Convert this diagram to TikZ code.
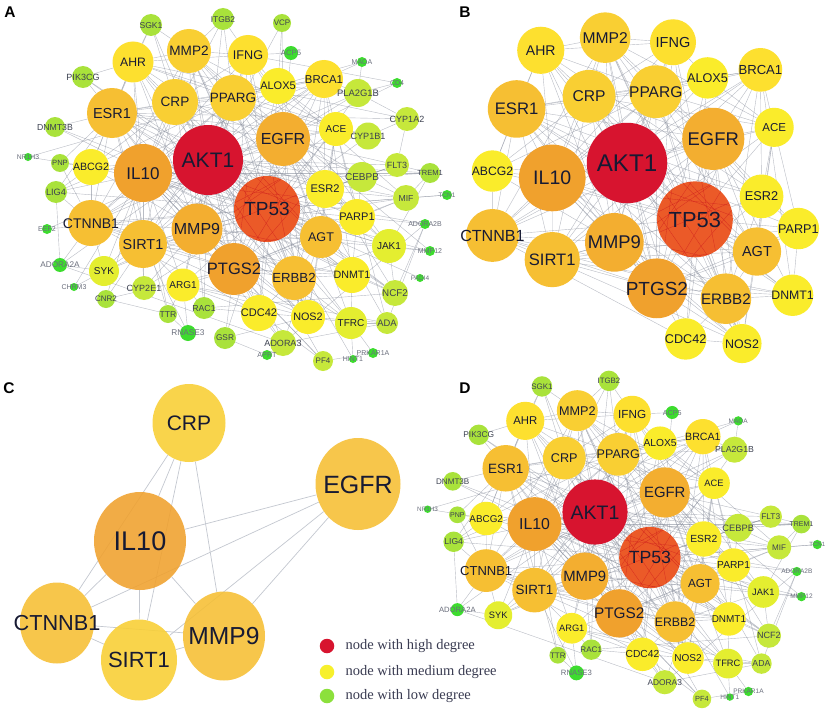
\documentclass[tikz,border=0pt]{standalone}
\usepackage{fontspec}
\setmainfont{Liberation Serif}
\setsansfont{Liberation Sans}
\usetikzlibrary{positioning, shapes.geometric}

% degree colours
\definecolor{degHigh}{HTML}{D7142F}
\definecolor{degTP}{HTML}{EB5A28}
\definecolor{degOrA}{HTML}{F0A12D}
\definecolor{degOrB}{HTML}{F3AE30}
\definecolor{degYO}{HTML}{F6BF33}
\definecolor{degYM}{HTML}{F9CF33}
\definecolor{degYE}{HTML}{FDE02F}
\definecolor{degYL}{HTML}{FAEC2B}
\definecolor{degYG}{HTML}{E4EE30}
\definecolor{degLG}{HTML}{C6E83B}
\definecolor{degGR}{HTML}{A9E23B}
\definecolor{degBG}{HTML}{3DDC2E}
\definecolor{keyYellow}{HTML}{F7F02C}
\definecolor{keyGreen}{HTML}{8CE03C}
\definecolor{ink}{HTML}{171A33}
\definecolor{inkgrey}{HTML}{3C4150}
\definecolor{inklight}{HTML}{6A6E7C}
\definecolor{linkgrey}{HTML}{8A909E}
\definecolor{clink}{HTML}{C4C8D0}
\definecolor{tpnet}{HTML}{C8101A}

\pgfdeclarelayer{back}
\pgfdeclarelayer{edges}
\pgfsetlayers{back,edges,main}

\tikzset{
  gene/.style={circle, inner sep=0pt, text=ink},
  hub/.style={fill=degHigh},
  tpnode/.style={fill=degTP, path picture={
      \foreach \pa/\pb in {5/140,25/200,50/250,80/300,110/340,150/20,170/60,200/95,
                           230/120,260/170,290/215,320/250,345/100,15/265,60/185,135/290}
        \draw[tpnet, line width=0.3pt, opacity=0.6]
          (path picture bounding box.\pa) -- (path picture bounding box.\pb);}},
  orA/.style={fill=degOrA},
  orB/.style={fill=degOrB},
  yelO/.style={fill=degYO},
  yelM/.style={fill=degYM},
  yelE/.style={fill=degYE},
  yelL/.style={fill=degYL},
  yelG/.style={fill=degYG},
  grnL/.style={fill=degLG, text=inkgrey},
  grn/.style={fill=degGR, text=inkgrey},
  grnB/.style={fill=degBG, text=inklight},
  link/.style={draw=linkgrey, line width=0.4pt, opacity=0.6},
  clinkline/.style={draw=clink, line width=0.7pt},
  cnode/.style={ellipse, fill opacity=0.88, text opacity=1},
  panel/.style={font=\sffamily\bfseries\fontsize{15.5}{15.5}\selectfont, inner sep=0pt},
  keydot/.style={circle, inner sep=0pt, minimum size=14.5},
  keytext/.style={font=\fontsize{14.5}{14.5}\selectfont, text=ink!85, inner sep=0pt},
}

% label of zero size, so the circle keeps its own size
\newcommand\glabel[1]{\makebox[0pt]{\raisebox{-0.36em}[0pt][0pt]{#1}}}

% name / x / y / radius / font size / style / level (1 = B, 2 = D, 3 = A only)
% positions relative to AKT1, panel A scale
\newcommand\genelist{%
AKT1/0/0/35/21/hub/1,
TP53/59/49/33/19/tpnode/1,
IL10/-65/13/29/17/orA/1,
EGFR/75/-21/27/16/orB/1,
MMP9/-11/69/25.5/16/orB/1,
PTGS2/26/109/26/16.5/orA/1,
ESR1/-96/-47/25/14.5/yelO/1,
CTNNB1/-117/63/23/14/yelO/1,
SIRT1/-65/84/24/14.4/yelO/1,
CRP/-33/-58/23/13.6/yelM/1,
PPARG/25/-62/23/13.5/yelM/1,
MMP2/-19/-109/22/13.6/yelM/1,
IFNG/40/-105/20/12.6/yelE/1,
AHR/-75/-98/20.5/12.2/yelE/1,
ALOX5/70/-74/18/11/yelL/1,
BRCA1/116/-81/19/11.4/yelE/1,
ACE/128/-31/17/10/yelL/1,
ESR2/117/29/19/11.1/yelL/1,
AGT/113/77/21/12.6/yelO/1,
ERBB2/86/118/22/13.2/yelO/1,
PARP1/149/57/18/11/yelL/1,
DNMT1/144/115/18/10.7/yelL/1,
CDC42/51/153/18/11/yelL/1,
NOS2/100/157/17/10.8/yelL/1,
ABCG2/-117/7/18/10.6/yelL/1,
JAK1/181/86/17/10/yelG/2,
TFRC/143/163/16/10/yelG/2,
ARG1/-25/125/16.5/10/yelL/2,
SYK/-104/111/15/10/yelG/2,
CEBPB/154/17/15/10/grnL/2,
FLT3/189/5/12/9/grnL/2,
MIF/198/38/13/8.7/grnL/2,
NCF2/187/133/13/9.8/grnL/2,
ADA/179/163/11/9.4/grnL/2,
PLA2G1B/150/-67/14/9.4/grnL/2,
SGK1/-57/-135/11/8.6/grn/2,
ITGB2/15/-141/11/8.4/grn/2,
ACP5/83/-107/7/7.7/grnB/2,
MAOA/154/-98/5/7/grnB/2,
PIK3CG/-125/-83/11/9/grn/2,
DNMT3B/-153/-33/10/8.7/grn/2,
NR1H3/-180/-3/4/6.8/grnB/2,
PNP/-148/3/9/7.6/grn/2,
LIG4/-152/32/11/9.2/grn/2,
ADORA2A/-148/105/7/8.2/grnB/2,
TTR/-40/154/9/8.6/grn/2,
RAC1/-4/148/11/8.7/grn/2,
RNASE3/-20/173/8/8.3/grnB/2,
ADORA3/75/183/13/9/grnL/2,
PF4/115/201/10/8/grnL/2,
HINT1/145/199/4/7/grnB/2,
PRKAR1A/165/193/5/7/grnB/2,
TREM1/222/13/10/7.5/grn/2,
TCN1/239/35/5/6.5/grnB/2,
ADORA2B/217/64/5/7/grnB/2,
MMP12/222/91/5/7/grnB/2,
VCP/74/-137/9/8/grn/3,
CD4/189/-77/5/7/grnB/3,
CYP1A2/199/-41/12/9/grnL/3,
CYP1B1/160/-24/13.5/9.1/grnL/3,
EEF2/-161/69/5/7/grnB/3,
CHRM3/-134/127/4/7/grnB/3,
CNR2/-102/139/9/8/grn/3,
CYP2E1/-64/128/12/9/grnL/3,
GSR/17/178/11/8.3/grn/3,
APRT/59/195/5/7.3/grnB/3,
PADI4/212/118/4/6.5/grnB/3%
}

% interactions: gene / {partners}
\newcommand\linklist{%
AKT1/{TP53,IL10,EGFR,MMP9,PTGS2,ESR1,CTNNB1,SIRT1,CRP,PPARG,MMP2,IFNG,AHR,ALOX5,BRCA1,ACE,ESR2,AGT,ERBB2,PARP1,DNMT1,CDC42,NOS2,ABCG2,JAK1,TFRC,ARG1,SYK,CEBPB,MIF,FLT3,NCF2,PLA2G1B,SGK1,ITGB2,VCP,PIK3CG,RAC1,LIG4,CYP1B1,PF4,ADORA3,TREM1,EEF2,ADORA2A},
TP53/{IL10,EGFR,MMP9,PTGS2,ESR1,CTNNB1,SIRT1,CRP,PPARG,MMP2,IFNG,AHR,ALOX5,BRCA1,ACE,ESR2,AGT,ERBB2,PARP1,DNMT1,CDC42,NOS2,ABCG2,JAK1,TFRC,ARG1,SYK,CEBPB,MIF,FLT3,NCF2,LIG4,DNMT3B,CYP1B1,CYP2E1,GSR,HINT1,PADI4,MMP12,TCN1,EEF2,PIK3CG},
IL10/{EGFR,MMP9,PTGS2,ESR1,CTNNB1,SIRT1,CRP,PPARG,MMP2,IFNG,AHR,ALOX5,AGT,ERBB2,NOS2,ABCG2,JAK1,ARG1,SYK,CEBPB,MIF,NCF2,ITGB2,CNR2,PF4,TREM1,ADORA2B,ADORA3,CHRM3,TTR},
EGFR/{MMP9,PTGS2,ESR1,CTNNB1,SIRT1,CRP,PPARG,MMP2,BRCA1,ACE,ESR2,AGT,ERBB2,PARP1,DNMT1,CDC42,NOS2,JAK1,CEBPB,FLT3,PLA2G1B,VCP,ACP5,CD4,TFRC,ADA},
MMP9/{PTGS2,ESR1,CTNNB1,SIRT1,CRP,PPARG,MMP2,IFNG,AHR,AGT,ERBB2,ACE,NOS2,ABCG2,TFRC,ARG1,MIF,MMP12,CYP2E1,RAC1,SYK},
PTGS2/{ESR1,CTNNB1,SIRT1,CRP,PPARG,MMP2,IFNG,AHR,ALOX5,ESR2,AGT,ERBB2,PARP1,DNMT1,NOS2,ARG1,CDC42,MIF,PLA2G1B,ADORA3,PF4,GSR,CNR2},
ESR1/{CTNNB1,SIRT1,CRP,PPARG,AHR,BRCA1,ESR2,ERBB2,DNMT1,ABCG2,CYP1B1,CYP1A2,DNMT3B,PIK3CG,SGK1,PNP,TTR,LIG4},
CTNNB1/{SIRT1,PPARG,MMP2,BRCA1,ERBB2,DNMT1,CDC42,ABCG2,SYK,ADORA2A,LIG4,PNP},
SIRT1/{PPARG,CRP,BRCA1,PARP1,DNMT1,AGT,NOS2,ARG1,SYK,CYP2E1,CNR2,RNASE3},
CRP/{PPARG,MMP2,IFNG,AHR,ALOX5,AGT,ACE,NOS2,ABCG2,SGK1},
PPARG/{MMP2,IFNG,AHR,ALOX5,BRCA1,ACE,ESR2,AGT,NOS2,ABCG2,CEBPB,NR1H3,PLA2G1B,ITGB2,MAOA},
MMP2/{IFNG,AHR,ACE,AGT,ERBB2,NOS2,SGK1,ITGB2,MMP12},
IFNG/{AHR,ALOX5,NOS2,JAK1,ITGB2,ACP5,CD4,NCF2},
AHR/{CYP1B1,CYP1A2,ESR2,SGK1,PIK3CG,ABCG2,CYP2E1},
ALOX5/{ACE,BRCA1,PLA2G1B,VCP,MIF},
BRCA1/{ESR2,PARP1,DNMT1,ERBB2,MAOA,LIG4,PLA2G1B},
ACE/{AGT,ESR2,NOS2,CYP1B1,ADA},
ESR2/{CEBPB,PARP1,ERBB2,AGT,FLT3},
AGT/{ERBB2,NOS2,PARP1,JAK1,ADORA3,NCF2},
ERBB2/{CDC42,DNMT1,JAK1,NOS2,TFRC},
PARP1/{DNMT1,CEBPB,JAK1,MIF,ADORA2B},
DNMT1/{DNMT3B,NCF2,TFRC},
CDC42/{NOS2,RAC1,ARG1,PF4},
NOS2/{ARG1,TFRC,ADA,GSR},
ABCG2/{NR1H3,PNP,LIG4},
JAK1/{TREM1,MMP12,NCF2},
TFRC/{PRKAR1A,ADA,HINT1},
ARG1/{TTR,RNASE3,RAC1,ADA},
SYK/{CHRM3,ADORA2A},
CEBPB/{FLT3,MIF,TREM1},
FLT3/{TREM1,CYP1A2},
MIF/{TCN1,TREM1},
NCF2/{RAC1,ADORA2B},
PLA2G1B/{MAOA,CD4,CYP1A2},
CYP1B1/{CYP1A2},
ADORA3/{ADORA2A,ADORA2B,APRT,ADA},
LIG4/{ADORA2A},
TTR/{RNASE3,CNR2},
GSR/{APRT},
PF4/{PRKAR1A},
ADA/{ADORA2B}%
}

% #1 panel prefix, #2 highest level shown
\newcommand\netnodes[2]{%
  \foreach \n/\x/\y/\r/\f/\s/\l in \genelist {
    \ifnum\l>#2\relax\else
      \node[gene, \s, minimum size=2*\r, font=\sffamily\fontsize{\f}{\f}\selectfont]
        (#1-\n) at (\x,\y) {\glabel{\n}};
    \fi
  }}

\newcommand\netlinks[1]{%
  \begin{pgfonlayer}{edges}
    \foreach \a/\others in \linklist {
      \foreach \b in \others {
        \ifcsname pgf@sh@ns@#1-\a\endcsname
          \ifcsname pgf@sh@ns@#1-\b\endcsname
            \draw[link] (#1-\a) -- (#1-\b);
          \fi
        \fi
      }
    }
  \end{pgfonlayer}}

\begin{document}
\begin{tikzpicture}[x=1pt, y=-1pt]
  \begin{pgfonlayer}{back}
    \fill[white] (0,0) rectangle (830,717);
  \end{pgfonlayer}
  \useasboundingbox (0,0) rectangle (830,717);

  % A: whole network
  \begin{scope}[shift={(208,160)}]
    \netnodes{A}{3}
    \netlinks{A}
  \end{scope}

  % B: medium and high degree genes
  \begin{scope}[shift={(627,163)}, scale=1.15, transform shape]
    \netnodes{B}{1}
    \netlinks{B}
  \end{scope}

  % D
  \begin{scope}[shift={(595,512)}, scale=0.93, transform shape]
    \netnodes{D}{2}
    \netlinks{D}
  \end{scope}

  % C: hub genes
  \node[gene, cnode, yelM, minimum width=73, minimum height=78,
        font=\sffamily\fontsize{21}{21}\selectfont] (cCRP) at (189,423) {\glabel{CRP}};
  \node[gene, cnode, yelO, minimum width=85, minimum height=92,
        font=\sffamily\fontsize{25}{25}\selectfont] (cEGFR) at (358,484) {\glabel{EGFR}};
  \node[gene, cnode, orA, minimum width=92, minimum height=98,
        font=\sffamily\fontsize{27}{27}\selectfont] (cIL10) at (140,541) {\glabel{IL10}};
  \node[gene, cnode, yelO, minimum width=74, minimum height=81,
        font=\sffamily\fontsize{21.7}{21.7}\selectfont] (cCTNNB1) at (57,623) {\glabel{CTNNB1}};
  \node[gene, cnode, yelM, minimum width=76, minimum height=81,
        font=\sffamily\fontsize{22}{22}\selectfont] (cSIRT1) at (139,660) {\glabel{SIRT1}};
  \node[gene, cnode, yelO, minimum width=82, minimum height=89,
        font=\sffamily\fontsize{24.6}{24.6}\selectfont] (cMMP9) at (224,636) {\glabel{MMP9}};
  \begin{pgfonlayer}{edges}
    \path[clinkline]
      (cCRP) edge (cIL10)
      (cCRP) edge (cCTNNB1)
      (cCRP) edge (cSIRT1)
      (cCRP) edge (cMMP9)
      (cEGFR) edge (cIL10)
      (cEGFR) edge (cCTNNB1)
      (cEGFR) edge (cSIRT1)
      (cEGFR) edge (cMMP9)
      (cIL10) edge (cCTNNB1)
      (cIL10) edge (cSIRT1)
      (cIL10) edge (cMMP9)
      (cCTNNB1) edge (cSIRT1)
      (cCTNNB1) edge (cMMP9)
      (cSIRT1) edge (cMMP9);
  \end{pgfonlayer}

  % legend
  \node[keydot, fill=degHigh] (keyHigh) at (327,646) {};
  \node[keydot, fill=keyYellow] (keyMed) at (327,672) {};
  \node[keydot, fill=keyGreen] (keyLow) at (327,696) {};
  \node[keytext, right=11pt of keyHigh] (keyHighText) {node with high degree};
  \node[keytext, right=11pt of keyMed] (keyMedText) {node with medium degree};
  \node[keytext, right=11pt of keyLow] (keyLowText) {node with low degree};

  % panel letters
  \node[panel] (labA) at (10,12) {A};
  \node[panel] (labB) at (465,12) {B};
  \node[panel] (labC) at (9,388) {C};
  \node[panel] (labD) at (465,388) {D};
\end{tikzpicture}
\end{document}
